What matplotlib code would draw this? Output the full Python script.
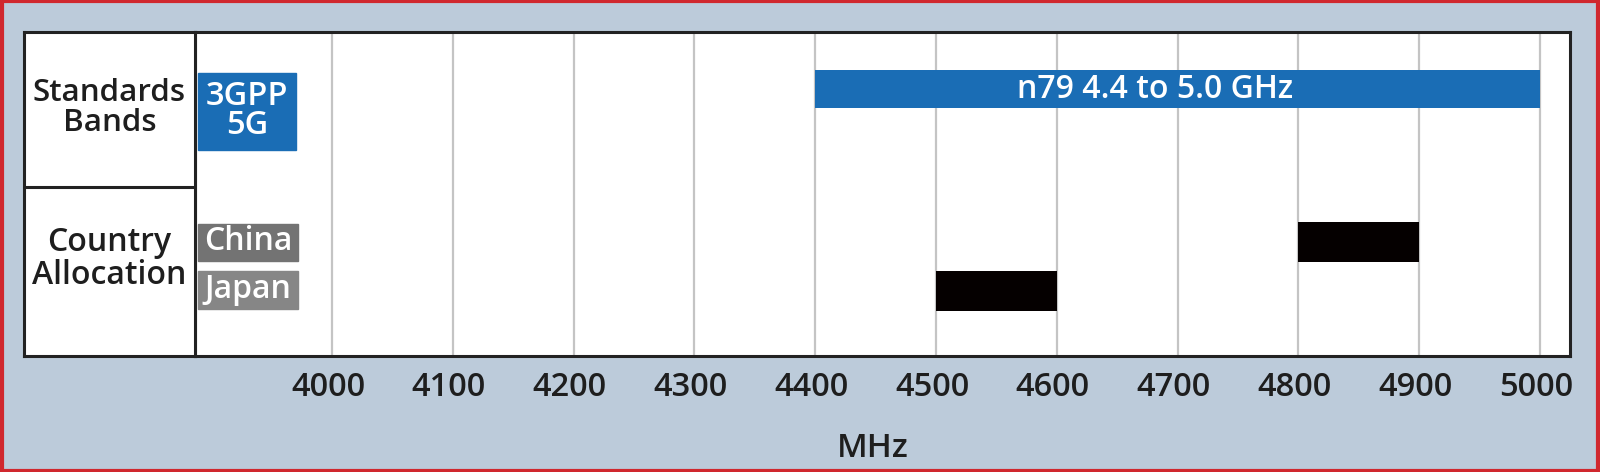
import matplotlib
matplotlib.use("Agg")
import matplotlib.pyplot as plt
from matplotlib.patches import Rectangle
from matplotlib.transforms import offset_copy, ScaledTranslation

plt.rcParams['font.family'] = ['Open Sans', 'DejaVu Sans']

# ---- data ----
band_names = ["n79 4.4 to 5.0 GHz"]
band_start = [4400]
band_end = [5000]

countries = ["China", "Japan"]
country_start = [4800, 4500]
country_end = [4900, 4600]

tick_values = [4000, 4100, 4200, 4300, 4400, 4500, 4600, 4700, 4800, 4900, 5000]
tick_labels = [str(v) for v in tick_values]
row_labels = ["Standards\nBands", "Country\nAllocation"]

# ---- style ----
BG = "#bccbda"
BLUE = "#1a6db5"
GRID = "#c4c4c4"
TXT = "#1e1e1e"
WT = "semibold"

W, H = 1600, 472
fig = plt.figure(figsize=(W / 100, H / 100), dpi=100, facecolor=BG)

def fx(px):
    return px / W

def fy(py):
    return 1 - py / H

top_px, bot_px = 32, 356
ax = fig.add_axes([fx(195), fy(bot_px), fx(1570) - fx(195), fy(top_px) - fy(bot_px)])
axl = fig.add_axes([fx(24), fy(bot_px), fx(195) - fx(24), fy(top_px) - fy(bot_px)])

ax.set_xlim(3886.6, 5024.8)
ax.set_ylim(324, 0)
ax.set_facecolor("white")
for x in tick_values:
    ax.axvline(x, color=GRID, lw=1.6, zorder=1)

band_y = [57]
band_h = 38
ax.barh(band_y, [e - s for s, e in zip(band_start, band_end)], left=band_start,
        height=band_h, color=BLUE, zorder=3)
shift = offset_copy(ax.transData, fig=fig, x=-16, y=0, units="points")
for y, s, e, name in zip(band_y, band_start, band_end, band_names):
    ax.text((s + e) / 2, y, name, color="white", ha="center", va="center",
            fontsize=23, fontweight=WT, zorder=4, transform=shift)

country_y = [210, 259]
ax.barh(country_y, [e - s for s, e in zip(country_start, country_end)],
        left=country_start, height=40, color="#050000", zorder=3)

ax.set_xticks(tick_values)
ax.set_xticklabels(tick_labels, fontsize=23.5, color=TXT, fontweight=WT)
ax.tick_params(axis="x", length=0, pad=11)
for lbl in ax.get_xticklabels():
    lbl.set_transform(lbl.get_transform() + ScaledTranslation(-0.04, 0, fig.dpi_scale_trans))
ax.set_yticks([])
ax.set_xlabel("MHz", fontsize=24, color=TXT, fontweight=WT)
ax.xaxis.set_label_coords((873 - 195) / 1375, (356 - 432) / 324)
for sp in ax.spines.values():
    sp.set_linewidth(2.2)
    sp.set_color("#222222")

def ax_rect(x0, x1, y0, y1, color):
    ax.add_patch(Rectangle(((x0 - 195) / 1375, 1 - (y1 - top_px) / 324),
                           (x1 - x0) / 1375, (y1 - y0) / 324,
                           transform=ax.transAxes, color=color, zorder=3, clip_on=False))

ax_rect(198, 296, 73, 150, BLUE)
ax.text((247 - 195) / 1375, 1 - (111 - top_px) / 324, "3GPP\n5G", transform=ax.transAxes,
        ha="center", va="center", color="white", fontsize=23.5, fontweight=WT,
        linespacing=0.82, zorder=4)
ax_rect(198, 298, 224, 261, "#737373")
ax_rect(198, 298, 271, 309, "#868686")
ax.text((248 - 195) / 1375, 1 - (242 - top_px) / 324, countries[0], transform=ax.transAxes,
        ha="center", va="center", color="white", fontsize=23, fontweight=WT, zorder=4)
ax.text((248 - 195) / 1375, 1 - (290 - top_px) / 324, countries[1], transform=ax.transAxes,
        ha="center", va="center", color="white", fontsize=23, fontweight=WT, zorder=4)

axl.set_xlim(0, 1)
axl.set_ylim(0, 1)
axl.set_xticks([])
axl.set_yticks([])
axl.set_facecolor("white")
for sp in axl.spines.values():
    sp.set_linewidth(2.2)
    sp.set_color("#222222")
axl.axhline(1 - (187 - top_px) / 324, color="#222222", lw=2.2)
axl.text(0.5, 1 - (108 - top_px) / 324, row_labels[0], ha="center", va="center",
         fontsize=22.5, color=TXT, linespacing=1.0, fontweight=WT)
axl.text(0.5, 1 - (259 - top_px) / 324, row_labels[1], ha="center", va="center",
         fontsize=23, color=TXT, linespacing=1.0, fontweight=WT)

fig.patches.append(Rectangle((0.001, 0.002), 0.998, 0.996, transform=fig.transFigure,
                             fill=False, edgecolor="#d0282e", lw=3))

fig.savefig("out.png", dpi=100, facecolor=BG)
